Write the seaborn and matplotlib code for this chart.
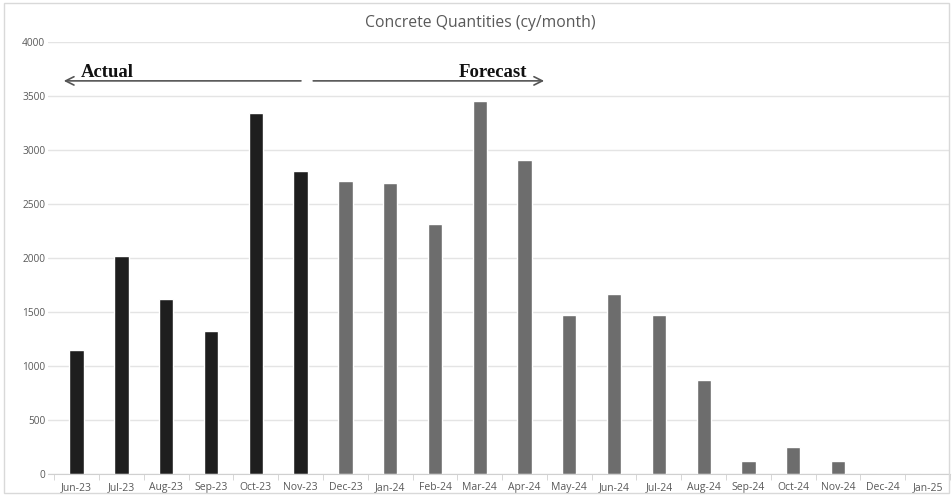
import matplotlib
matplotlib.use('Agg')
import matplotlib.pyplot as plt
import seaborn as sns
import pandas as pd
from matplotlib.patches import Rectangle

months = ['Jun-23', 'Jul-23', 'Aug-23', 'Sep-23', 'Oct-23', 'Nov-23', 'Dec-23',
          'Jan-24', 'Feb-24', 'Mar-24', 'Apr-24', 'May-24', 'Jun-24', 'Jul-24',
          'Aug-24', 'Sep-24', 'Oct-24', 'Nov-24', 'Dec-24', 'Jan-25']
quantities = [1145, 2015, 1620, 1320, 3340, 2805, 2715, 2695, 2315, 3455,
              2910, 1470, 1670, 1470, 870, 118, 248, 118, 0, 0]
n_actual = 6
kinds = ['Actual'] * n_actual + ['Forecast'] * (len(months) - n_actual)

df = pd.DataFrame({'month': months, 'cy': quantities, 'kind': kinds})

sns.set_style('white')
plt.rcParams['font.family'] = ['Open Sans', 'DejaVu Sans']

fig = plt.figure(figsize=(9.53, 4.96), dpi=100)
ax = fig.add_axes([48 / 953, 1 - 474 / 496, 902 / 953, 432 / 496])

sns.barplot(data=df, x='month', y='cy', hue='kind', dodge=False, width=0.32,
            palette={'Actual': '#1e1e1e', 'Forecast': '#6d6d6d'},
            legend=False, ax=ax)

ax.set_xlim(-0.64, 19.4)
ax.set_ylim(0, 4000)
ax.set_yticks(range(0, 4001, 500))
ax.yaxis.grid(True, color='#e4e4e4', linewidth=1)
ax.set_axisbelow(True)
for s in ['top', 'right', 'left']:
    ax.spines[s].set_visible(False)
ax.spines['bottom'].set_color('#d0d0d0')
ax.set_xlabel('')
ax.set_ylabel('')
ax.tick_params(axis='y', length=0, labelsize=7.3, labelcolor='#595959', pad=2)
ax.tick_params(axis='x', length=0, labelsize=7.5, labelcolor='#595959', pad=6)
# small separator ticks between categories
ax.set_xticks([i + 0.5 for i in range(-1, len(months))], minor=True)
ax.tick_params(axis='x', which='minor', length=4, color='#d0d0d0', bottom=True)

ax.set_title('Concrete Quantities (cy/month)', fontsize=11.3, color='#595959',
             pad=11, x=0.479)

# actual / forecast arrows
ax.annotate('', xy=(-0.35, 3640), xytext=(5.07, 3640),
            arrowprops=dict(arrowstyle='->', color='#555555', lw=1.2, mutation_scale=15))
ax.annotate('', xy=(10.5, 3640), xytext=(5.22, 3640),
            arrowprops=dict(arrowstyle='->', color='#555555', lw=1.2, mutation_scale=15))
ax.text(0.1, 3675, 'Actual', family='Liberation Serif', fontweight='bold',
        fontsize=13.5, color='#111111', ha='left', va='baseline')
ax.text(10.05, 3675, 'Forecast', family='Liberation Serif', fontweight='bold',
        fontsize=13.5, color='#111111', ha='right', va='baseline')

fig.patches.append(Rectangle((0.004, 0.006), 0.992, 0.988, transform=fig.transFigure,
                             fill=False, edgecolor='#d9d9d9', linewidth=1))

plt.savefig('out.png', dpi=100)
